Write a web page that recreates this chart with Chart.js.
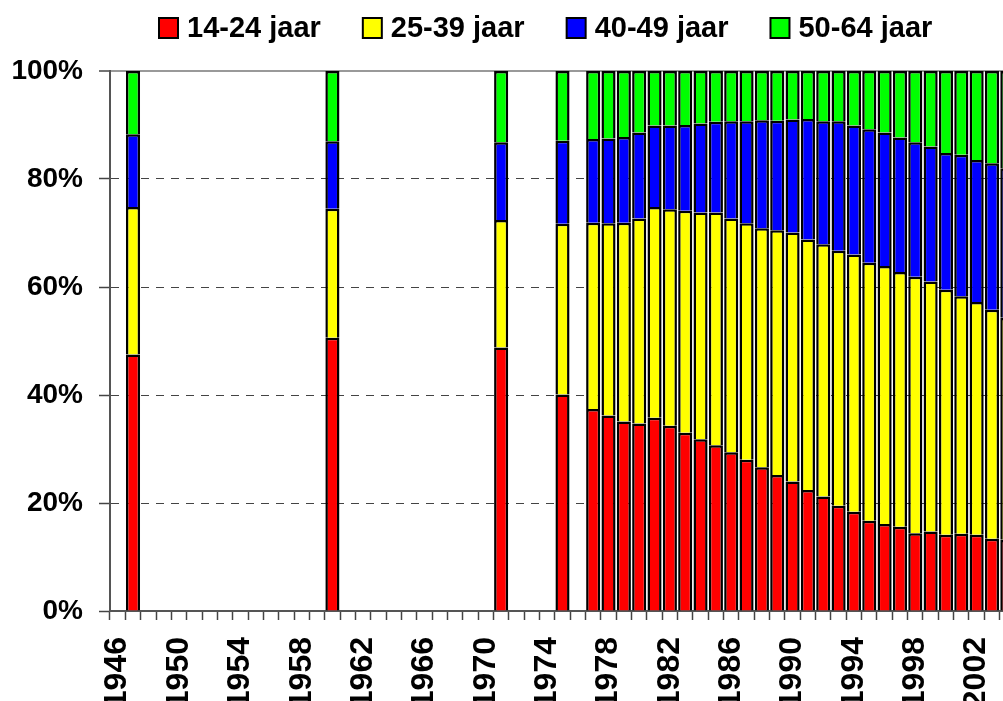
<!DOCTYPE html>
<html>
<head>
<meta charset="utf-8">
<script src="https://cdn.jsdelivr.net/npm/chart.js@4"></script>
<style>
html, body { margin: 0; padding: 0; overflow: hidden; background: #fff; }
#wrap { width: 1015px; height: 701px; }
</style>
</head>
<body>
<div id="wrap"><canvas id="myChart"></canvas></div>
<script>
var categories = [
    1946, 1947, 1948, 1949, 1950, 1951, 1952, 1953, 1954, 1955,
    1956, 1957, 1958, 1959, 1960, 1961, 1962, 1963, 1964, 1965,
    1966, 1967, 1968, 1969, 1970, 1971, 1972, 1973, 1974, 1975,
    1976, 1977, 1978, 1979, 1980, 1981, 1982, 1983, 1984, 1985,
    1986, 1987, 1988, 1989, 1990, 1991, 1992, 1993, 1994, 1995,
    1996, 1997, 1998, 1999, 2000, 2001, 2002, 2003, 2004
]

// years that have a bar
var dataYears = [1947, 1960, 1971, 1975, 1977, 1978, 1979, 1980, 1981, 1982,
    1983, 1984, 1985, 1986, 1987, 1988, 1989, 1990, 1991, 1992,
    1993, 1994, 1995, 1996, 1997, 1998, 1999, 2000, 2001, 2002, 2003, 2004]

var age14_24 = [47.5, 50.6, 48.8, 40.1, 37.4, 36.2, 35.1, 34.7, 35.8, 34.3,
    33.0, 31.8, 30.7, 29.4, 28.0, 26.6, 25.2, 24.0, 22.4, 21.2,
    19.5, 18.4, 16.7, 16.1, 15.6, 14.4, 14.7, 14.1, 14.3, 14.1, 13.4, 13.2]
var age25_39 = [27.3, 23.9, 23.6, 31.6, 34.5, 35.6, 36.8, 38.0, 39.0, 40.1,
    41.1, 42.0, 43.1, 43.3, 43.8, 44.3, 45.3, 46.1, 46.4, 46.7,
    47.2, 47.6, 47.8, 47.8, 47.2, 47.5, 46.3, 45.4, 44.0, 43.1, 42.4, 41.1]
var age40_49 = [13.5, 12.5, 14.4, 15.4, 15.5, 15.7, 15.9, 15.9, 15.1, 15.5,
    15.9, 16.5, 16.8, 18.0, 18.9, 20.0, 20.3, 20.9, 22.3, 22.8,
    24.0, 23.9, 24.7, 24.7, 24.9, 24.9, 25.0, 25.3, 26.2, 26.3, 27.1, 27.7]
var age50_64 = [11.7, 13.0, 13.2, 12.9, 12.6, 12.5, 12.2, 11.4, 10.1, 10.1,
    10.0, 9.7, 9.4, 9.3, 9.3, 9.1, 9.2, 9.0, 8.9, 9.3,
    9.3, 10.1, 10.8, 11.4, 12.3, 13.2, 14.0, 15.2, 15.5, 16.5, 17.1, 18.0]

var seriesLabels = ["14-24 jaar", "25-39 jaar", "40-49 jaar", "50-64 jaar"]
var barColors = ["#ff0000", "#ffff00", "#0000ff", "#00ff00"]
var yTicks = [0, 20, 40, 60, 80, 100]

var fontFamily = '"Liberation Sans", Arial, sans-serif'

function toSeries(values) {
    return categories.map(function (year) {
        var i = dataYears.indexOf(year)
        return i < 0 ? null : values[i]
    })
}

var allSeries = [age14_24, age25_39, age40_49, age50_64]
var datasets = []
for (var i = 0; i < allSeries.length; i++) {
    datasets.push({
        label: seriesLabels[i],
        data: toSeries(allSeries[i]),
        backgroundColor: barColors[i],
        borderColor: "#000",
        borderWidth: 2.5,
        barPercentage: 0.92,
        categoryPercentage: 1.0
    })
}

// legend row drawn above the plot
var topLegend = {
    id: "topLegend",
    afterDraw: function (chart) {
        var ctx = chart.ctx
        var x = 159
        ctx.save()
        ctx.font = "bold 29px " + fontFamily
        ctx.textBaseline = "middle"
        chart.data.datasets.forEach(function (ds) {
            ctx.fillStyle = ds.backgroundColor
            ctx.fillRect(x, 18, 19, 20)
            ctx.lineWidth = 2
            ctx.strokeStyle = "#000"
            ctx.strokeRect(x, 18, 19, 20)
            ctx.fillStyle = "#000"
            ctx.fillText(ds.label, x + 28, 29)
            x += 28 + ctx.measureText(ds.label).width + 42
        })
        ctx.restore()
    }
}

new Chart("myChart", {
    type: "bar",
    data: {
        labels: categories,
        datasets: datasets
    },
    plugins: [topLegend],
    options: {
        responsive: true,
        maintainAspectRatio: false,
        animation: false,
        layout: { padding: { top: 71, left: 0, right: 0, bottom: 0 } },
        plugins: {
            legend: { display: false },
            tooltip: { enabled: false }
        },
        scales: {
            x: {
                stacked: true,
                afterFit: function (scale) {
                    scale.height = 90
                    scale.paddingLeft = 0
                    scale.paddingRight = 0
                },
                grid: {
                    drawOnChartArea: false,
                    offset: true,
                    tickLength: 9,
                    tickColor: "#444",
                    tickWidth: 1.5
                },
                border: { color: "#555", width: 2 },
                ticks: {
                    autoSkip: false,
                    minRotation: 90,
                    maxRotation: 90,
                    padding: 17,
                    color: "#000",
                    font: { family: fontFamily, size: 32, weight: "bold" },
                    callback: function (val) {
                        var year = this.getLabelForValue(val)
                        return (year - 1946) % 4 === 0 ? String(year) : ""
                    }
                }
            },
            y: {
                stacked: true,
                min: 0,
                max: 100,
                afterFit: function (scale) { scale.width = 110 },
                afterBuildTicks: function (scale) {
                    scale.ticks = yTicks.map(function (v) { return { value: v } })
                },
                grid: {
                    color: function (c) { return c.tick && c.tick.value === 100 ? "#999" : "#444" },
                    lineWidth: function (c) { return c.tick && c.tick.value === 100 ? 2 : 1 },
                    tickLength: 11,
                    tickColor: "#444",
                    tickWidth: 1.5
                },
                border: {
                    color: "#555",
                    width: 2,
                    dash: function (c) {
                        return (c.tick && c.tick.value > 0 && c.tick.value < 100) ? [8, 7] : []
                    }
                },
                ticks: {
                    padding: 16,
                    color: "#000",
                    font: { family: fontFamily, size: 28, weight: "bold" },
                    callback: function (v) { return v + "%" }
                }
            }
        }
    }
});
</script>
</body>
</html>
